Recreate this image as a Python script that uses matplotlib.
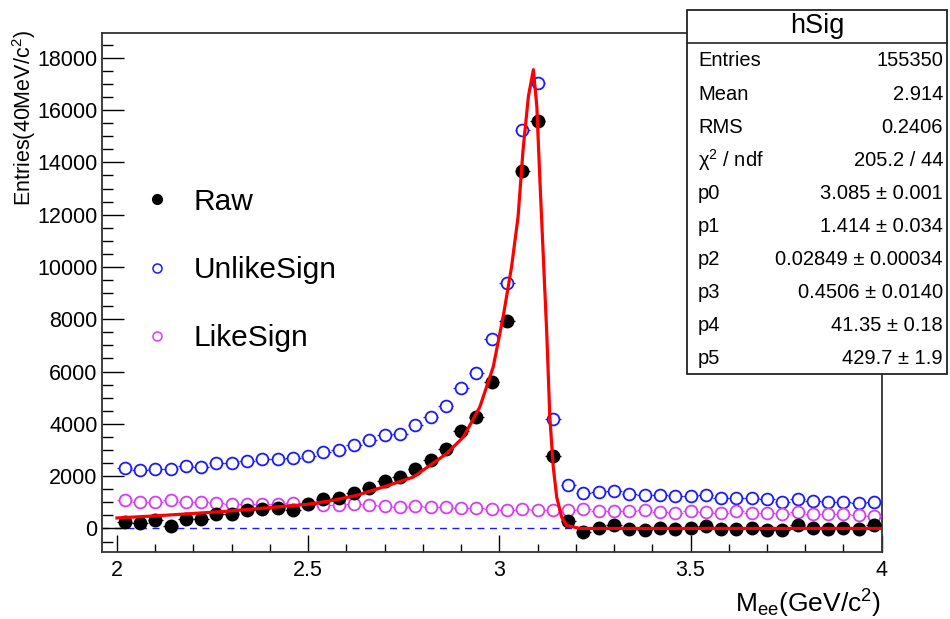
import numpy as np
import matplotlib
matplotlib.use('Agg')
import matplotlib.pyplot as plt
from matplotlib.lines import Line2D
from matplotlib.patches import Rectangle
from matplotlib.ticker import MultipleLocator, FuncFormatter

plt.rcParams['font.family'] = ['Liberation Sans', 'DejaVu Sans']
plt.rcParams['mathtext.fontset'] = 'custom'
plt.rcParams['mathtext.rm'] = 'Liberation Sans'
plt.rcParams['mathtext.it'] = 'Liberation Sans:italic'

# 50 bins of 40 MeV between 2 and 4 GeV
bin_edges = np.linspace(2.0, 4.0, 51)
mass = 0.5 * (bin_edges[1:] + bin_edges[:-1])
half_width = 0.02

raw = [240, 200, 310, 90, 345, 345, 560, 540, 690, 755,
       790, 720, 950, 1140, 1160, 1370, 1560, 1820, 1970, 2260,
       2630, 3030, 3720, 4270, 5610, 7930, 13690, 15590, 2770, 300,
       -140, 26, 140, -13, -77, 26, -13, 0, 88, -13,
       -38, 26, -51, -77, 115, 26, -13, 26, -38, 128]

unlike_sign = [2330, 2230, 2290, 2260, 2390, 2350, 2500, 2500, 2580, 2670,
               2670, 2700, 2770, 2920, 2990, 3210, 3370, 3580, 3630, 3950,
               4270, 4690, 5390, 5950, 7230, 9370, 15250, 17040, 4200, 1660,
               1370, 1390, 1430, 1330, 1290, 1290, 1230, 1240, 1290, 1180,
               1160, 1180, 1110, 1030, 1140, 1050, 1030, 1030, 980, 1030]

like_sign = [1070, 1010, 1010, 1100, 1010, 1010, 970, 945, 920, 945,
             945, 985, 920, 880, 905, 920, 905, 845, 820, 845,
             820, 820, 795, 795, 755, 690, 755, 715, 715, 715,
             755, 650, 650, 650, 690, 625, 600, 650, 625, 600,
             650, 600, 600, 560, 625, 560, 560, 560, 500, 460]

# fitted curve
fit_x = [2.00, 2.10, 2.19, 2.28, 2.365, 2.496, 2.56, 2.627, 2.70, 2.775,
         2.862, 2.906, 2.949, 2.984, 3.010, 3.032, 3.049, 3.062, 3.076, 3.089,
         3.098, 3.106, 3.115, 3.124, 3.132, 3.141, 3.150, 3.163, 3.176, 3.211,
         4.00]
fit_y = [400, 480, 563, 650, 755, 920, 1060, 1264, 1600, 1966,
         2860, 3498, 4648, 6180, 8096, 10011, 11927, 14483, 16525, 17548,
         16150, 13333, 10395, 7458, 4266, 2349, 1200, 433, 115, 0,
         0]

stat_names = ['Entries', 'Mean', 'RMS', '\u03c7$^{2}$ / ndf', 'p0', 'p1', 'p2', 'p3', 'p4', 'p5']
stat_values = ['155350', '2.914', '0.2406', '205.2 / 44', '3.085 \u00b1 0.001',
               '1.414 \u00b1 0.034', '0.02849 \u00b1 0.00034', '0.4506 \u00b1 0.0140',
               '41.35 \u00b1 0.18', '429.7 \u00b1 1.9']

W, H = 950, 619
blue = '#1a1aff'
magenta = '#d63cf5'


def fx(px):
    return px / W


def fy(py):
    return 1 - py / H


fig = plt.figure(figsize=(9.5, 6.19), dpi=100)
ax = fig.add_axes([fx(101.7), fy(551.7), fx(881.7) - fx(101.7), fy(33) - fy(551.7)])

ax.axhline(0, color=blue, lw=1.0, ls=(0, (5, 4)), zorder=1)

ax.errorbar(mass, unlike_sign, xerr=half_width, fmt='o', color=blue, ms=8.5,
            mfc='white', mec=blue, mew=1.3, elinewidth=0.9, zorder=3)
ax.errorbar(mass, like_sign, xerr=half_width, fmt='o', color=magenta, ms=8.5,
            mfc='white', mec=magenta, mew=1.3, elinewidth=0.9, zorder=3)
ax.errorbar(mass, raw, xerr=half_width, fmt='o', color='black', ms=9,
            elinewidth=0.9, zorder=4)
ax.plot(fit_x, fit_y, color='red', lw=2.3, zorder=5)

ax.set_xlim(1.96, 4.0)
ax.set_ylim(-890, 18950)
ax.xaxis.set_major_locator(MultipleLocator(0.5))
ax.xaxis.set_minor_locator(MultipleLocator(0.1))
ax.yaxis.set_major_locator(MultipleLocator(2000))
ax.yaxis.set_minor_locator(MultipleLocator(500))
ax.xaxis.set_major_formatter(FuncFormatter(lambda v, p: '%g' % v))
ax.tick_params(axis='both', which='both', direction='in', top=False, right=False,
               labelsize=15.5, width=1.0, colors='black')
ax.tick_params(axis='y', which='major', length=16, pad=3)
ax.tick_params(axis='y', which='minor', length=8)
ax.tick_params(axis='x', which='major', length=12, pad=6)
ax.tick_params(axis='x', which='minor', length=6)
for s in ax.spines.values():
    s.set_linewidth(1.3)
    s.set_color('#333333')

fig.text(fx(881), fy(604), r'M$_{\mathrm{ee}}$(GeV/c$^{2}$)', ha='right', va='center', fontsize=19)
fig.text(fx(24), fy(30), r'Entries(40MeV/c$^{2}$)', ha='center', va='top', rotation=90, fontsize=15.5)

# legend
handles = [Line2D([], [], ls='none', marker='o', color='black', ms=7),
           Line2D([], [], ls='none', marker='o', mfc='none', mec=blue, mew=1.1, ms=6.5),
           Line2D([], [], ls='none', marker='o', mfc='none', mec=magenta, mew=1.1, ms=6.5)]
fig.legend(handles, ['Raw', 'UnlikeSign', 'LikeSign'], loc='center left',
           bbox_to_anchor=(fx(147), fy(270)), frameon=False, fontsize=21.5,
           handlelength=0.7, handletextpad=0.85, labelspacing=1.35, borderpad=0,
           borderaxespad=0)

# stats box
x0, x1, y0, y1 = 687, 947, 10, 374
fig.add_artist(Rectangle((fx(x0), fy(y1)), fx(x1) - fx(x0), fy(y0) - fy(y1),
                         transform=fig.transFigure, facecolor='white',
                         edgecolor='#222222', lw=1.3, zorder=10))
fig.add_artist(Line2D([fx(x0), fx(x1)], [fy(42.7), fy(42.7)], transform=fig.transFigure,
                      color='#222222', lw=1.2, zorder=11))
fig.text(fx((x0 + x1) / 2), fy(26), 'hSig', ha='center', va='center', fontsize=19.5, zorder=12)
for i, (name, val) in enumerate(zip(stat_names, stat_values)):
    yy = fy(61 + 33.1 * i)
    fig.text(fx(698), yy, name, ha='left', va='center', fontsize=14.5, zorder=12)
    fig.text(fx(943), yy, val, ha='right', va='center', fontsize=14.5, zorder=12)

fig.savefig('out.png', dpi=100)
